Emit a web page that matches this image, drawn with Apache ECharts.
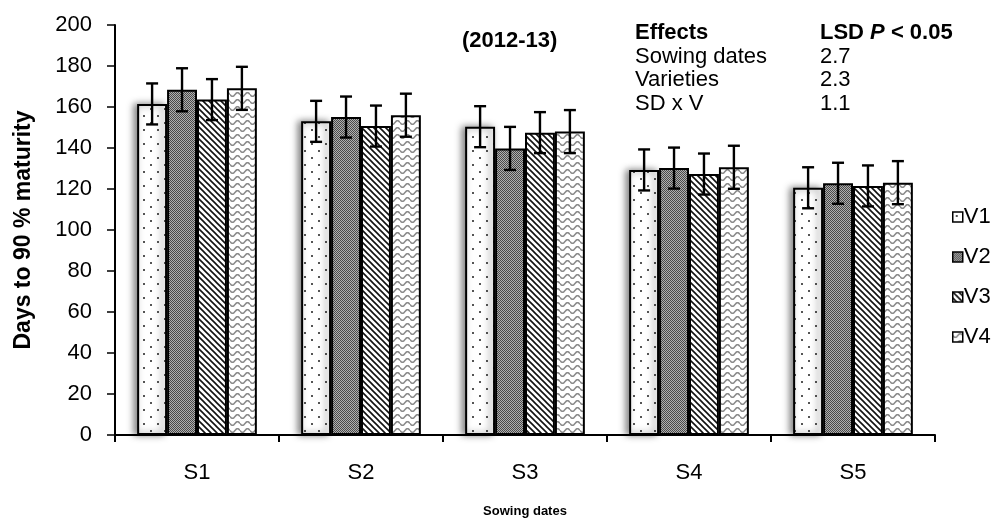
<!DOCTYPE html>
<html><head><meta charset="utf-8">
<script src="https://cdn.jsdelivr.net/npm/echarts@6/dist/echarts.min.js"></script>
<style>html,body{margin:0;padding:0;background:#fff}#c{width:995px;height:525px}</style>
</head><body><div id="c"></div>
<script>
var categories = ['S1','S2','S3','S4','S5'];
var seriesNames = ['V1','V2','V3','V4'];
var V1 = [161.5, 153.0, 150.4, 129.3, 120.6];
var V2 = [168.4, 155.1, 139.8, 130.2, 122.8];
var V3 = [163.6, 150.7, 147.5, 127.3, 121.5];
var V4 = [169.1, 156.0, 148.0, 130.6, 123.1];
var E1 = [10, 10, 10, 10, 10];
var E2 = [10.5, 10, 10.5, 10, 10];
var E3 = [10, 10, 10, 10, 10];
var E4 = [10.5, 10.5, 10.5, 10.5, 10.5];
var yTicks = [0, 20, 40, 60, 80, 100, 120, 140, 160, 180, 200];
var lsdEffects = ['Sowing dates', 'Varieties', 'SD x V'];
var lsdValues = ['2.7', '2.3', '1.1'];

var values = [V1, V2, V3, V4];
var errors = [E1, E2, E3, E4];
var FONT = 'Liberation Sans, Arial, sans-serif';

function mk(w, h, draw) {
  var c = document.createElement('canvas'); c.width = w; c.height = h;
  var g = c.getContext('2d'); g.fillStyle = '#fff'; g.fillRect(0, 0, w, h); draw(g); return c;
}
var patV1 = mk(14, 14, function (g) { g.fillStyle = '#555'; g.fillRect(3, 3, 2, 2); g.fillRect(10, 10, 2, 2); });
var patV2 = mk(2, 2, function (g) { g.fillStyle = '#4a4a4a'; g.fillRect(0, 0, 1, 1); g.fillRect(1, 1, 1, 1); g.fillStyle = '#b0b0b0'; g.fillRect(1, 0, 1, 1); g.fillRect(0, 1, 1, 1); });
var patV3 = mk(6, 6, function (g) {
  g.strokeStyle = '#111'; g.lineWidth = 1.6;
  g.beginPath(); g.moveTo(-1, -1); g.lineTo(7, 7); g.moveTo(-4, 2); g.lineTo(4, 10); g.moveTo(2, -4); g.lineTo(10, 4); g.stroke();
});
var patV4 = mk(10, 7, function (g) {
  g.strokeStyle = '#8a8a8a'; g.lineWidth = 1.6;
  g.beginPath();
  for (var x = 0; x <= 10; x += 0.5) { var y = 3.5 + 1.8 * Math.sin(x / 10 * 2 * Math.PI); if (x === 0) g.moveTo(x, y); else g.lineTo(x, y); }
  g.stroke();
});
var pats = [patV1, patV2, patV3, patV4];

var GAP = 0.27;
var series = [];
seriesNames.forEach(function (n, i) {
  var s = {
    name: n, type: 'bar', data: values[i], barGap: '0%', barCategoryGap: (GAP * 100) + '%',
    itemStyle: { color: { image: pats[i], repeat: 'repeat' }, borderColor: '#000', borderWidth: 2 },
    emphasis: { disabled: true }, z: 2
  };
  if (i === 0) { s.itemStyle.shadowColor = 'rgba(0,0,0,0.5)'; s.itemStyle.shadowBlur = 7; s.itemStyle.shadowOffsetX = -3; }
  series.push(s);
});
seriesNames.forEach(function (n, i) {
  series.push({
    type: 'custom', name: n + ' err', z: 5, silent: true,
    data: values[i].map(function (v, k) { return [k, v, errors[i][k]]; }),
    renderItem: function (params, api) {
      var k = api.value(0), v = api.value(1), e = api.value(2);
      var band = api.size([1, 0])[0];
      var bw = band * (1 - GAP) / 4;
      var c = api.coord([k, v]);
      var x = c[0] + (i - 1.5) * bw;
      var yt = api.coord([k, v + e])[1], yb = api.coord([k, v - e])[1];
      var st = { stroke: '#000', lineWidth: 2.4 };
      var cap = 6;
      return { type: 'group', children: [
        { type: 'line', shape: { x1: x, y1: yt, x2: x, y2: yb }, style: st },
        { type: 'line', shape: { x1: x - cap, y1: yt, x2: x + cap, y2: yt }, style: st },
        { type: 'line', shape: { x1: x - cap, y1: yb, x2: x + cap, y2: yb }, style: st }
      ]};
    }
  });
});

var chart = echarts.init(document.getElementById('c'), null, { renderer: 'canvas' });
var graphics = [
  { type: 'text', left: 462, top: 30, style: { text: '(2012-13)', font: 'bold 22px ' + FONT, fill: '#000' } },
  { type: 'text', left: 635, top: 22, style: { text: 'Effects', font: 'bold 22px ' + FONT, fill: '#000' } },
  { type: 'text', left: 820, top: 22, style: {
      text: '{b|LSD }{i|P}{b| < 0.05}',
      rich: { b: { font: 'bold 22px ' + FONT, fill: '#000' }, i: { font: 'italic bold 22px ' + FONT, fill: '#000' } } } }
];
lsdEffects.forEach(function (t, j) {
  graphics.push({ type: 'text', left: 635, top: 45.5 + j * 23.5, style: { text: t, font: '22px ' + FONT, fill: '#000' } });
  graphics.push({ type: 'text', left: 820, top: 45.5 + j * 23.5, style: { text: lsdValues[j], font: '22px ' + FONT, fill: '#000' } });
});

chart.setOption({
  animation: false,
  backgroundColor: '#fff',
  grid: { left: 115, top: 25, width: 820, height: 410, containLabel: false },
  legend: {
    data: seriesNames, orient: 'vertical', left: 947, top: 201, itemWidth: 10, itemHeight: 10, itemGap: 18,
    icon: 'rect', textStyle: { fontFamily: FONT, fontSize: 22, color: '#000', padding: [0, 0, 0, -4] },
    itemStyle: { borderColor: '#000', borderWidth: 1.5 }
  },
  xAxis: {
    type: 'category', data: categories,
    name: 'Sowing dates', nameLocation: 'middle', nameGap: 70,
    nameTextStyle: { fontFamily: FONT, fontWeight: 'bold', fontSize: 13, color: '#000' },
    axisLine: { lineStyle: { color: '#000', width: 2 } },
    axisTick: { show: true, length: 7, lineStyle: { color: '#000', width: 2 } },
    axisLabel: { fontFamily: FONT, fontSize: 22, color: '#000', margin: 27 }
  },
  yAxis: {
    type: 'value', min: yTicks[0], max: yTicks[yTicks.length - 1], interval: yTicks[1] - yTicks[0],
    name: 'Days to 90 % maturity', nameLocation: 'middle', nameGap: 80, nameRotate: 90,
    nameTextStyle: { fontFamily: FONT, fontWeight: 'bold', fontSize: 23, color: '#000' },
    axisLine: { show: true, lineStyle: { color: '#000', width: 2 } },
    axisTick: { show: true, length: 8, lineStyle: { color: '#000', width: 1.5 } },
    axisLabel: { fontFamily: FONT, fontSize: 22, color: '#000', margin: 23 },
    splitLine: { show: false }
  },
  graphic: graphics,
  series: series
});
</script></body></html>
